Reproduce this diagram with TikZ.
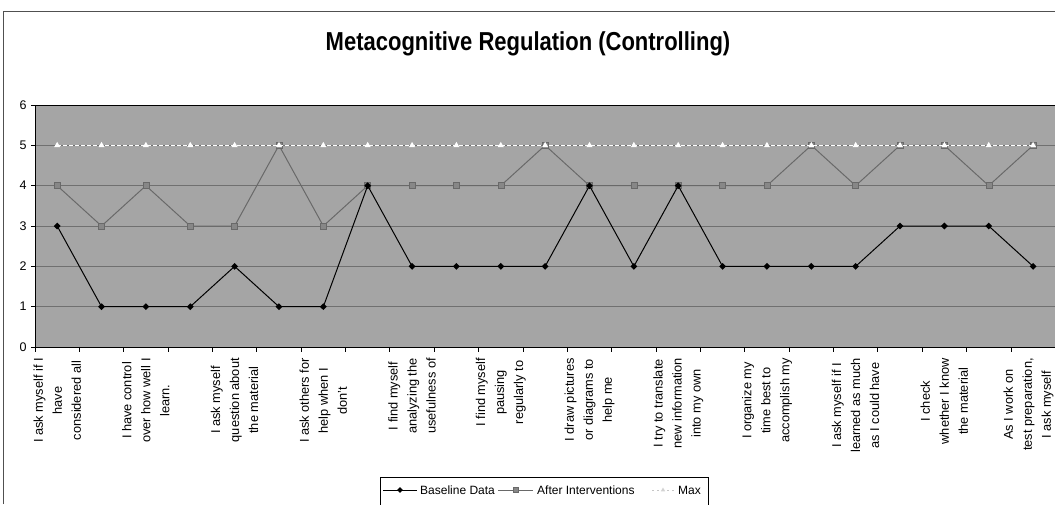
\documentclass[tikz,border=0pt]{standalone}
\usepackage{fontspec}
\setmainfont{Liberation Sans}
\usetikzlibrary{shapes.geometric}
\definecolor{plotbg}{RGB}{165,165,165}
\definecolor{gridc}{RGB}{112,112,112}
\definecolor{aftc}{RGB}{105,105,105}
\definecolor{aftm}{RGB}{135,135,135}
\definecolor{framec}{RGB}{80,80,80}
\tikzset{
  bline/.style={black, line width=1pt},
  aline/.style={aftc, line width=1pt},
  mline/.style={white, line width=1.2pt, dash pattern=on 4pt off 2pt},
  bmark/.style={diamond, fill=black, inner sep=0pt, minimum size=7pt},
  amark/.style={rectangle, fill=aftm, draw=aftc, line width=0.5pt, inner sep=0pt, minimum size=6pt},
  mmark/.style={regular polygon, regular polygon sides=3, fill=white, inner sep=0pt, minimum size=7pt},
  gridline/.style={gridc, line width=1pt},
  axisline/.style={black, line width=0.8pt},
  ylab/.style={font=\fontsize{12.5}{14}\selectfont, inner sep=0pt},
  xlab/.style={rotate=90, anchor=east, align=center, inner sep=0pt, font=\fontsize{12.8}{19}\selectfont},
  titletext/.style={font=\fontsize{22}{26}\selectfont\bfseries, inner sep=0pt},
  legtext/.style={font=\fontsize{12}{14}\selectfont, inner sep=0pt, anchor=west},
  legbox/.style={draw=black, line width=0.6pt, inner sep=0pt, anchor=north west}
}
\begin{document}
\begin{tikzpicture}[x=1pt,y=-1pt]
\useasboundingbox (0,0) rectangle (1055,504);
% outer frame
\coordinate (fbl) at (3,504);
\coordinate (ftl) at (3,11);
\coordinate (ftr) at (1055,11);
\draw[framec, line width=0.6pt] (fbl) -- (ftl) -- (ftr);
% title
\node[titletext] (title) at (528,44) {\scalebox{1}[1.18]{Metacognitive Regulation (Controlling)}};
% plot area
\coordinate (ptl) at (35,105);
\coordinate (pbr) at (1055,347);
\coordinate (ptr) at (1055,105);
\coordinate (pbl) at (35,347);
\fill[plotbg] (ptl) rectangle (pbr);
\foreach \v in {1,...,5} {
  \coordinate (gl\v) at (35,{347-40.33*\v});
  \coordinate (gr\v) at (1055,{347-40.33*\v});
  \draw[gridline] (gl\v) -- (gr\v);
}
\draw[axisline] (ptl) -- (ptr);
\draw[axisline] (ptl) -- (pbl) -- (pbr);
% y ticks and labels
\foreach \v in {0,...,6} {
  \coordinate (yt\v) at (31,{347-40.33*\v});
  \coordinate (ya\v) at (35,{347-40.33*\v});
  \draw[axisline] (yt\v) -- (ya\v);
  \node[ylab] (yl\v) at (23,{347-40.33*\v}) {\v};
}
% x ticks
\foreach \k in {0,...,23} {
  \coordinate (xt\k) at ({35+44.36*\k},347);
  \coordinate (xb\k) at ({35+44.36*\k},352);
  \draw[axisline] (xt\k) -- (xb\k);
}
% data coordinates
\foreach \v [count=\i] in {3,1,1,1,2,1,1,4,2,2,2,2,4,2,4,2,2,2,2,3,3,3,2}
  \coordinate (b\i) at ({12.82+44.36*\i},{347-40.33*\v});
\foreach \v [count=\i] in {4,3,4,3,3,5,3,4,4,4,4,5,4,4,4,4,4,5,4,5,5,4,5}
  \coordinate (a\i) at ({12.82+44.36*\i},{347-40.33*\v});
\foreach \i in {1,...,23}
  \coordinate (m\i) at ({12.82+44.36*\i},{347-40.33*5});
% After Interventions
\draw[aline] (a1) \foreach \i in {2,...,23} { -- (a\i) };
\foreach \i in {1,...,23} \node[amark] (am\i) at (a\i) {};
% Baseline
\draw[bline] (b1) \foreach \i in {2,...,23} { -- (b\i) };
\foreach \i in {1,...,23} \node[bmark] (bm\i) at (b\i) {};
% Max
\draw[mline] (m1) \foreach \i in {2,...,23} { -- (m\i) };
\foreach \i in {1,...,23} \node[mmark] (mm\i) at (m\i) {};
% category labels
\node[xlab] (lab1) at ({12.82+44.36*1},358) {I ask myself if I\\have\\considered all};
\node[xlab] (lab2) at ({12.82+44.36*3},358) {I have control\\over how well I\\learn.};
\node[xlab] (lab3) at ({12.82+44.36*5},358) {I ask myself\\question about\\the material};
\node[xlab] (lab4) at ({12.82+44.36*7},358) {I ask others for\\help when I\\don't};
\node[xlab] (lab5) at ({12.82+44.36*9},358) {I find myself\\analyzing the\\usefulness of};
\node[xlab] (lab6) at ({12.82+44.36*11},358) {I find myself\\pausing\\regularly to};
\node[xlab] (lab7) at ({12.82+44.36*13},358) {I draw pictures\\or diagrams to\\help me};
\node[xlab] (lab8) at ({12.82+44.36*15},358) {I try to translate\\new information\\into my own};
\node[xlab] (lab9) at ({12.82+44.36*17},358) {I organize my\\time best to\\accomplish my};
\node[xlab] (lab10) at ({12.82+44.36*19},358) {I ask myself if I\\learned as much\\as I could have};
\node[xlab] (lab11) at ({12.82+44.36*21},358) {I check\\whether I know\\the material};
\node[xlab] (lab12) at (1028.5,358) {As I work on\\test preparation,\\I ask myself};
% legend
\node[legbox, minimum width=328pt, minimum height=30pt] (legend) at (380,477) {};
\coordinate (l1a) at (383,490); \coordinate (l1b) at (417,490);
\draw[bline] (l1a) -- (l1b);
\node[bmark, minimum size=6pt] (lm1) at (400,490) {};
\node[legtext] (lt1) at (420,490) {Baseline Data};
\coordinate (l2a) at (498,490); \coordinate (l2b) at (533,490);
\draw[aline] (l2a) -- (l2b);
\node[amark, minimum size=5pt] (lm2) at (515.5,490) {};
\node[legtext] (lt2) at (537,490) {After Interventions};
\coordinate (l3a) at (652,490); \coordinate (l3b) at (674,490);
\draw[gray!45, line width=1pt, dash pattern=on 2pt off 3pt] (l3a) -- (l3b);
\node[mmark, fill=gray!35, minimum size=5pt] (lm3) at (663,490) {};
\node[legtext] (lt3) at (678,490) {Max};
\end{tikzpicture}
\end{document}
